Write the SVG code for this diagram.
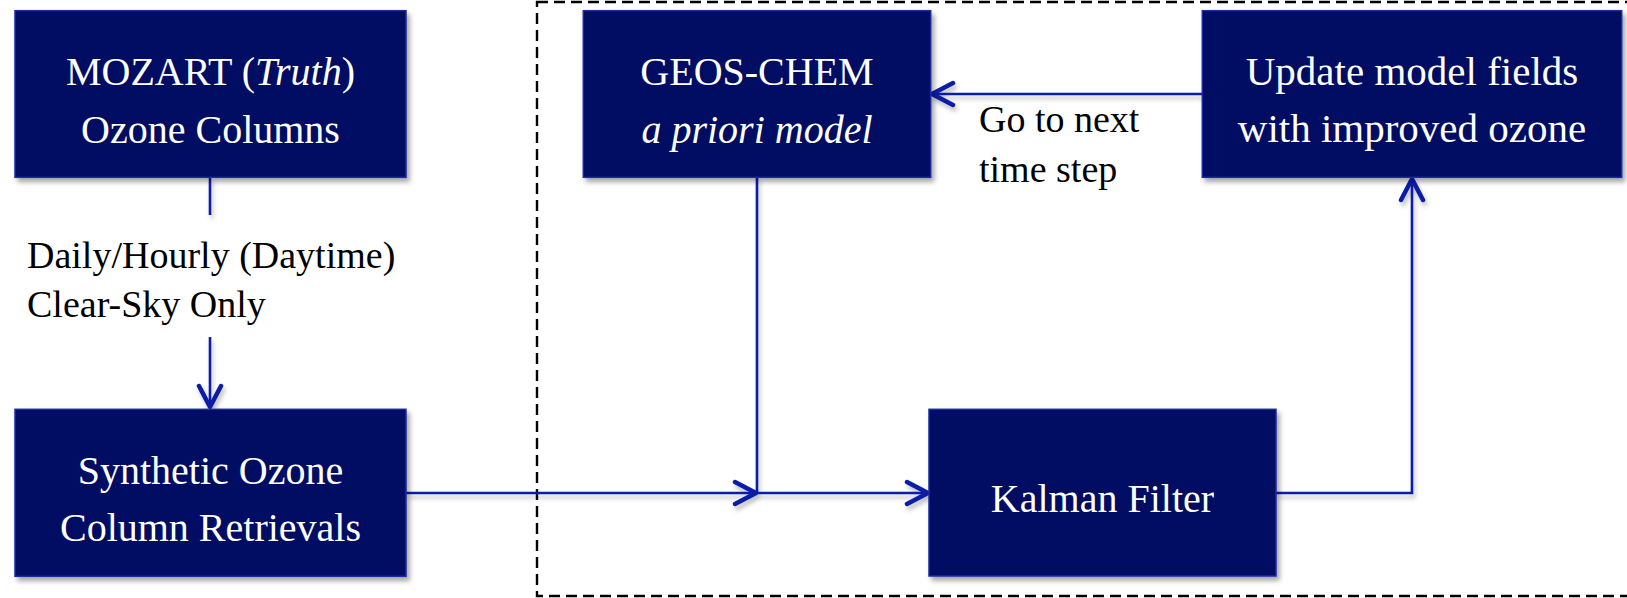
<svg xmlns="http://www.w3.org/2000/svg" width="1627" height="598" viewBox="0 0 1627 598">
  <style>
    .box { fill: #020c62; stroke: #1a2aa3; stroke-width: 1.5; }
    .bt { fill: #ffffff; font-family: "Liberation Serif", "DejaVu Serif", serif; font-size: 40px; text-anchor: middle; }
    .lbl { fill: #000000; font-family: "Liberation Serif", "DejaVu Serif", serif; font-size: 38px; }
    .con { fill: none; stroke: #0b1fa8; stroke-width: 2.6; }
    .it { font-style: italic; }
  </style>
  <defs>
    <filter id="sh" x="-10%" y="-10%" width="130%" height="130%">
      <feDropShadow dx="3" dy="4" stdDeviation="2.5" flood-color="#000000" flood-opacity="0.35"/>
    </filter>
    <filter id="shl" x="-5%" y="-5%" width="110%" height="110%" filterUnits="userSpaceOnUse">
      <feDropShadow dx="2" dy="4" stdDeviation="2" flood-color="#000000" flood-opacity="0.25"/>
    </filter>
    <marker id="arr" markerUnits="userSpaceOnUse" markerWidth="30" markerHeight="30" refX="24" refY="13" orient="auto" viewBox="0 0 30 26">
      <path d="M3 2 L24 13 L3 24" fill="none" stroke="#0b1fa8" stroke-width="4.5" stroke-linecap="round" stroke-linejoin="round"/>
    </marker>
  </defs>

  <rect id="frame" x="537" y="2" width="1100" height="594" fill="none" stroke="#000000" stroke-width="2.4" stroke-dasharray="11 6"/>

  <g id="connectors" filter="url(#shl)">
    <path class="con" d="M210 177 V215 M210 337 V407" marker-end="url(#arr)"/>
    <path class="con" d="M406 493 H756" marker-end="url(#arr)"/>
    <path class="con" d="M757 177 V493 H928" marker-end="url(#arr)"/>
    <path class="con" d="M1276 493 H1412 V179" marker-end="url(#arr)"/>
    <path class="con" d="M1202 94 H932" marker-end="url(#arr)"/>
  </g>

  <g id="mozart">
    <rect class="box" x="15" y="10.7" width="391" height="166.6" filter="url(#sh)"/>
    <text class="bt" x="210.5" y="85">MOZART (<tspan class="it">Truth</tspan>)</text>
    <text class="bt" x="210.5" y="142.7">Ozone Columns</text>
  </g>

  <g id="label-daily">
    <text class="lbl" x="27" y="268">Daily/Hourly (Daytime)</text>
    <text class="lbl" x="27" y="317">Clear-Sky Only</text>
  </g>

  <g id="synthetic">
    <rect class="box" x="15" y="409.3" width="391" height="167" filter="url(#sh)"/>
    <text class="bt" x="210.5" y="483.5">Synthetic Ozone</text>
    <text class="bt" x="210.5" y="541">Column Retrievals</text>
  </g>

  <g id="geoschem">
    <rect class="box" x="583.3" y="10.7" width="347.4" height="166.6" filter="url(#sh)"/>
    <text class="bt" x="757" y="85">GEOS-CHEM</text>
    <text class="bt it" x="757" y="142.7">a priori model</text>
  </g>

  <g id="update">
    <rect class="box" x="1202.3" y="10.7" width="419.4" height="166.6" filter="url(#sh)"/>
    <text class="bt" x="1412" y="85" style="font-size:41px">Update model fields</text>
    <text class="bt" x="1412" y="141.7" style="font-size:41px">with improved ozone</text>
  </g>

  <g id="label-next">
    <text class="lbl" x="979" y="131.7">Go to next</text>
    <text class="lbl" x="979" y="181.7">time step</text>
  </g>

  <g id="kalman">
    <rect class="box" x="929" y="409.3" width="347" height="166.7" filter="url(#sh)"/>
    <text class="bt" x="1102.5" y="511.7">Kalman Filter</text>
  </g>
</svg>
